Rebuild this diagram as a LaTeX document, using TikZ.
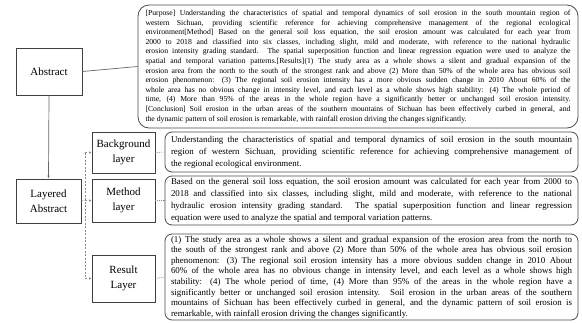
\documentclass[tikz,border=0pt]{standalone}
\usepackage{fontspec}
\setmainfont{Liberation Serif}
\usetikzlibrary{arrows.meta}
\tikzset{
  labelbox/.style={draw=black!75, line width=0.9pt, align=center, inner sep=0pt,
    font=\fontsize{11}{15.5}\selectfont},
  textbox/.style={draw=black!70, line width=0.8pt, rounded corners=7pt, inner sep=0pt,
    align=justify},
  link/.style={draw=black!60, line width=0.7pt},
  dashlink/.style={draw=black!45, line width=0.6pt, dash pattern=on 2pt off 1.5pt},
  dotlink/.style={draw=black!50, line width=0.6pt, dash pattern=on 0.8pt off 1pt},
}
\begin{document}
\begin{tikzpicture}[x=1pt, y=-1pt]
\useasboundingbox (0,0) rectangle (582,322);
\fill[white] (0,0) rectangle (582,322);

% left column
\node[labelbox, minimum width=66pt, minimum height=47pt] (abs) at (49,71.5) {Abstract};
\node[labelbox, minimum width=65pt, minimum height=44pt] (lay) at (48.5,201) {Layered\\Abstract};

% layer boxes
\node[labelbox, minimum width=63pt, minimum height=41pt] (bg) at (123.5,152.5) {Background\\layer};
\node[labelbox, minimum width=63pt, minimum height=43pt] (me) at (123.5,200.5) {Method\\layer};
\node[labelbox, minimum width=63pt, minimum height=47pt] (re) at (123.5,278.5) {Result\\Layer};

% full abstract
\node[textbox, rounded corners=11pt, minimum width=440pt, minimum height=123pt,
  text width=425pt, font=\fontsize{7.7}{9.6}\selectfont] (abst) at (358,66.5) {%
{[}Purpose] Understanding the characteristics of spatial and temporal dynamics of soil erosion in the south mountain region of\linebreak{}
western Sichuan, providing scientific reference for achieving comprehensive management of the regional ecological\linebreak{}
environment[Method] Based on the general soil loss equation, the soil erosion amount was calculated for each year from\linebreak{}
2000 to 2018 and classified into six classes, including slight, mild and moderate, with reference to the national hydraulic\linebreak{}
erosion intensity grading standard. The spatial superposition function and linear regression equation were used to analyze the\linebreak{}
spatial and temporal variation patterns.[Results](1) The study area as a whole shows a silent and gradual expansion of the\linebreak{}
erosion area from the north to the south of the strongest rank and above (2) More than 50\% of the whole area has obvious soil\linebreak{}
erosion phenomenon: (3) The regional soil erosion intensity has a more obvious sudden change in 2010 About 60\% of the\linebreak{}
whole area has no obvious change in intensity level, and each level as a whole shows high stability: (4) The whole period of\linebreak{}
time, (4) More than 95\% of the areas in the whole region have a significantly better or unchanged soil erosion intensity.\linebreak{}
{[}Conclusion] Soil erosion in the urban areas of the southern mountains of Sichuan has been effectively curbed in general, and\linebreak{}
the dynamic pattern of soil erosion is remarkable, with rainfall erosion driving the changes significantly.};

% layered texts
\node[textbox, minimum width=413pt, minimum height=40pt, text width=401pt,
  font=\fontsize{8.9}{12}\selectfont] (bgt) at (371.5,152) {%
Understanding the characteristics of spatial and temporal dynamics of soil erosion in the south mountain\linebreak{}
region of western Sichuan, providing scientific reference for achieving comprehensive management of\linebreak{}
the regional ecological environment.};

\node[textbox, minimum width=413pt, minimum height=49pt, text width=401pt,
  font=\fontsize{8.9}{12}\selectfont] (met) at (371.5,200.5) {%
Based on the general soil loss equation, the soil erosion amount was calculated for each year from 2000 to\linebreak{}
2018 and classified into six classes, including slight, mild and moderate, with reference to the national\linebreak{}
hydraulic erosion intensity grading standard. The spatial superposition function and linear regression\linebreak{}
equation were used to analyze the spatial and temporal variation patterns.};

\node[textbox, minimum width=413pt, minimum height=86pt, text width=401pt,
  font=\fontsize{8.9}{10.6}\selectfont] (ret) at (371.5,277) {%
(1) The study area as a whole shows a silent and gradual expansion of the erosion area from the north to\linebreak{}
the south of the strongest rank and above (2) More than 50\% of the whole area has obvious soil erosion\linebreak{}
phenomenon: (3) The regional soil erosion intensity has a more obvious sudden change in 2010 About\linebreak{}
60\% of the whole area has no obvious change in intensity level, and each level as a whole shows high\linebreak{}
stability: (4) The whole period of time, (4) More than 95\% of the areas in the whole region have a\linebreak{}
significantly better or unchanged soil erosion intensity. Soil erosion in the urban areas of the southern\linebreak{}
mountains of Sichuan has been effectively curbed in general, and the dynamic pattern of soil erosion is\linebreak{}
remarkable, with rainfall erosion driving the changes significantly.};

% connectors
\draw[link] (abs.east) -- (abst.west);
\draw[link, -{Latex[length=3pt, width=2.5pt]}] (abs.south) -- (lay.north);

% dashed spine feeding the three layers
\coordinate (sp1) at (85,152.5);
\coordinate (sp2) at (85,200.5);
\coordinate (sp3) at (85,278.5);
\draw[dashlink] (sp1) -- (sp3);
\draw[dashlink] (lay.east) -- (sp2);
\draw[dashlink, -{Latex[length=2.5pt, width=2.5pt]}] (sp1) -- (bg.west);
\draw[dashlink, -{Latex[length=2.5pt, width=2.5pt]}] (sp2) -- (me.west);
\draw[dashlink, -{Latex[length=2.5pt, width=2.5pt]}] (sp3) -- (re.west);

% dotted leaders to the texts
\draw[dotlink] (bg.east) -- (bgt.west);
\draw[dotlink] (me.east) -- (met.west);
\draw[dotlink] (re.east) -- (ret.west);
\end{tikzpicture}
\end{document}
